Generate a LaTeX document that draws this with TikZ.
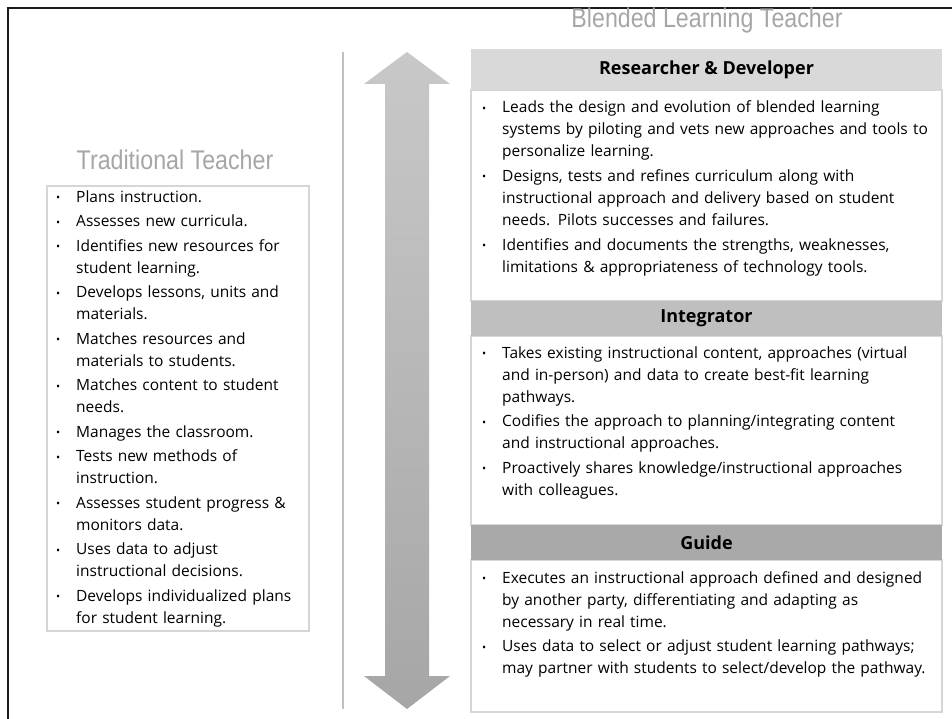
\documentclass[tikz,border=0pt]{standalone}
\usepackage{fontspec}
\setmainfont{Open Sans}
\newfontfamily\titlefont[FakeStretch=0.86]{Liberation Sans}
\usetikzlibrary{positioning}
\definecolor{framec}{HTML}{1A1A1A}
\definecolor{titlec}{HTML}{A6A6A6}
\definecolor{boxline}{HTML}{D6D6D6}
\definecolor{hdrA}{HTML}{D9D9D9}
\definecolor{hdrB}{HTML}{BFBFBF}
\definecolor{hdrC}{HTML}{A9A9A9}
\definecolor{divline}{HTML}{C0C0C0}
\definecolor{arrtop}{HTML}{C8C8C8}
\definecolor{arrbot}{HTML}{A6A6A6}
\newlength\bulind
\setlength\bulind{20bp}
\newcommand\bitem[1]{\noindent\hangindent=\bulind\hangafter=1\makebox[\bulind][l]{\fontsize{11bp}{11bp}\selectfont\raisebox{0.5bp}{•}}#1\par}
\newcommand\lstsetup{\setlength\parskip{2.5bp}\setlength\parindent{0pt}\raggedright}
\begin{document}
\begin{tikzpicture}[x=1bp,y=-1bp,
  frameline/.style={draw=framec,line width=2.5bp},
  ttl/.style={font=\titlefont\fontsize{27bp}{28bp}\selectfont,text=titlec,inner sep=0pt,anchor=base},
  bodybox/.style={draw=boxline,line width=1.2bp,fill=white,inner sep=0pt,outer sep=0pt,anchor=north west},
  hdr/.style={inner sep=0pt,outer sep=0pt,anchor=north west,minimum width=471bp,font=\bfseries\fontsize{18bp}{20bp}\selectfont,text=black},
  lst/.style={inner sep=0pt,anchor=base west,text width=#1,font=\fontsize{15.5bp}{22bp}\selectfont},
]
\useasboundingbox (0,0) rectangle (952,719);
\fill[white] (0,0) rectangle (952,719);
% frame
\draw[frameline] (6.75,8) -- (952,8);
\draw[frameline] (8,6.75) -- (8,719);
% titles
\node[ttl] (bltitle) at (707,28) {Blended Learning Teacher};
\node[ttl] (tttitle) at (175,170) {Traditional Teacher};
% left box
\node[bodybox,minimum width=262bp,minimum height=445bp] (lbox) at (47,186) {};
\node[lst=262bp] (ltext) at (56,202) {\lstsetup
\bitem{Plans instruction.}
\bitem{Assesses new curricula.}
\bitem{Identifies new resources for\newline student learning.}
\bitem{Develops lessons, units and\newline materials.}
\bitem{Matches resources and\newline materials to students.}
\bitem{Matches content to student\newline needs.}
\bitem{Manages the classroom.}
\bitem{Tests new methods of\newline instruction.}
\bitem{Assesses student progress \&\newline monitors data.}
\bitem{Uses data to adjust\newline instructional decisions.}
\bitem{Develops individualized plans\newline for student learning.}};
% divider line
\draw[divline,line width=1.8bp] (343,52) -- (343,709);
% double arrow
\shade[top color=arrtop,bottom color=arrbot]
  (407,52) -- (450,84) -- (429,84) -- (429,676) -- (450,676) -- (407,709)
  -- (364,676) -- (385,676) -- (385,84) -- (364,84) -- cycle;
% right panel
\node[bodybox,minimum width=471bp,minimum height=211bp] (b1) at (471,90) {};
\node[bodybox,minimum width=471bp,minimum height=189bp] (b2) at (471,336) {};
\node[bodybox,minimum width=471bp,minimum height=152bp] (b3) at (471,560) {};
\node[hdr,fill=hdrA,minimum height=41bp] (h1) at (471,49) {Researcher \& Developer};
\node[hdr,fill=hdrB,minimum height=35bp] (h2) at (471,301) {Integrator};
\node[hdr,fill=hdrC,minimum height=35bp] (h3) at (471,525) {Guide};
\node[lst=465bp] (t1) at (482,113) {\lstsetup
\bitem{Leads the design and evolution of blended learning\newline systems by piloting and vets new approaches and tools to\newline personalize learning.}
\bitem{Designs, tests and refines curriculum along with\newline instructional approach and delivery based on student\newline needs. Pilots successes and failures.}
\bitem{Identifies and documents the strengths, weaknesses,\newline limitations \& appropriateness of technology tools.}};
\node[lst=465bp] (t2) at (482,358) {\lstsetup
\bitem{Takes existing instructional content, approaches (virtual\newline and in-person) and data to create best-fit learning\newline pathways.}
\bitem{Codifies the approach to planning/integrating content\newline and instructional approaches.}
\bitem{Proactively shares knowledge/instructional approaches\newline with colleagues.}};
\node[lst=465bp] (t3) at (482,583) {\lstsetup
\bitem{Executes an instructional approach defined and designed\newline by another party, differentiating and adapting as\newline necessary in real time.}
\bitem{Uses data to select or adjust student learning pathways;\newline may partner with students to select/develop the pathway.}};
\end{tikzpicture}
\end{document}
